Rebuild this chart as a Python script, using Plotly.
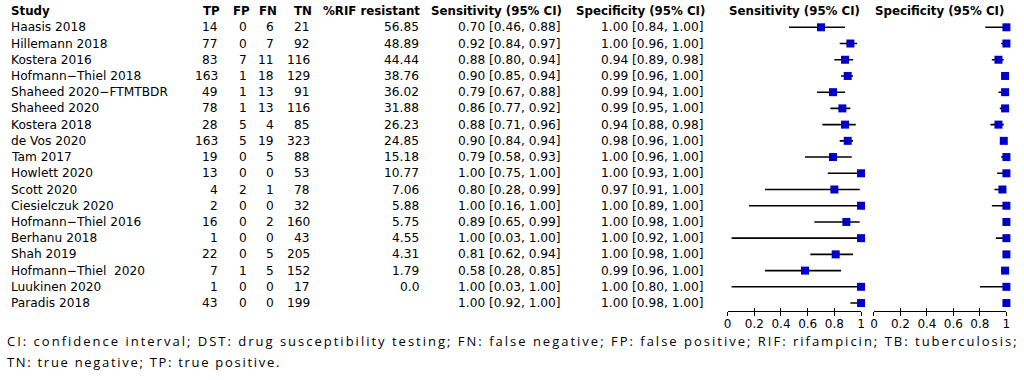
import plotly.graph_objects as go

studies = ["Haasis 2018", "Hillemann 2018", "Kostera 2016", "Hofmann\u2212Thiel 2018",
           "Shaheed 2020\u2212FTMTBDR", "Shaheed 2020", "Kostera 2018", "de Vos 2020",
           "Tam 2017", "Howlett 2020", "Scott 2020", "Ciesielczuk 2020",
           "Hofmann\u2212Thiel 2016", "Berhanu 2018", "Shah 2019", "Hofmann\u2212Thiel  2020",
           "Luukinen 2020", "Paradis 2018"]
tp = [14, 77, 83, 163, 49, 78, 28, 163, 19, 13, 4, 2, 16, 1, 22, 7, 1, 43]
fp = [0, 0, 7, 1, 1, 1, 5, 5, 0, 0, 2, 0, 0, 0, 0, 1, 0, 0]
fn = [6, 7, 11, 18, 13, 13, 4, 19, 5, 0, 1, 0, 2, 0, 5, 5, 0, 0]
tn = [21, 92, 116, 129, 91, 116, 85, 323, 88, 53, 78, 32, 160, 43, 205, 152, 17, 199]
rif = ["56.85", "48.89", "44.44", "38.76", "36.02", "31.88", "26.23", "24.85", "15.18",
       "10.77", "7.06", "5.88", "5.75", "4.55", "4.31", "1.79", "0.0", ""]
sens = [0.70, 0.92, 0.88, 0.90, 0.79, 0.86, 0.88, 0.90, 0.79, 1.00, 0.80, 1.00, 0.89, 1.00, 0.81, 0.58, 1.00, 1.00]
sens_lo = [0.46, 0.84, 0.80, 0.85, 0.67, 0.77, 0.71, 0.84, 0.58, 0.75, 0.28, 0.16, 0.65, 0.03, 0.62, 0.28, 0.03, 0.92]
sens_hi = [0.88, 0.97, 0.94, 0.94, 0.88, 0.92, 0.96, 0.94, 0.93, 1.00, 0.99, 1.00, 0.99, 1.00, 0.94, 0.85, 1.00, 1.00]
spec = [1.00, 1.00, 0.94, 0.99, 0.99, 0.99, 0.94, 0.98, 1.00, 1.00, 0.97, 1.00, 1.00, 1.00, 1.00, 0.99, 1.00, 1.00]
spec_lo = [0.84, 0.96, 0.89, 0.96, 0.94, 0.95, 0.88, 0.96, 0.96, 0.93, 0.91, 0.89, 0.98, 0.92, 0.98, 0.96, 0.80, 0.98]
spec_hi = [1.00, 1.00, 0.98, 1.00, 1.00, 1.00, 0.98, 1.00, 1.00, 1.00, 1.00, 1.00, 1.00, 1.00, 1.00, 1.00, 1.00, 1.00]
ticks = [0, 0.2, 0.4, 0.6, 0.8, 1]
tick_labels = ["0", "0.2", "0.4", "0.6", "0.8", "1"]
footnote = ["CI: confidence interval; DST: drug susceptibility testing; FN: false negative; FP: false positive; RIF: rifampicin; TB: tuberculosis;",
            "TN: true negative; TP: true positive."]

W, H = 1024, 380
ROW0, ROWH = 27.3, 16.22
AXIS_Y = 311
FONT = "DejaVu Sans"
BLUE = "#0000c8"

rows = list(range(len(studies)))
y_top = -ROW0 / ROWH
y_bot = (AXIS_Y - ROW0) / ROWH

fig = go.Figure()


def ci_trace(v, lo, hi, xa):
    return go.Scatter(
        x=v, y=rows, mode="markers", xaxis=xa, yaxis="y",
        marker=dict(symbol="square", size=8, color=BLUE, line=dict(width=0)),
        error_x=dict(type="data", symmetric=False,
                     array=[h - a for a, h in zip(v, hi)],
                     arrayminus=[a - l for a, l in zip(v, lo)],
                     color="black", thickness=1.6, width=0),
        cliponaxis=False, showlegend=False, hoverinfo="skip")


fig.add_trace(ci_trace(sens, sens_lo, sens_hi, "x"))
fig.add_trace(ci_trace(spec, spec_lo, spec_hi, "x2"))
# empty traces so the overlay tick axes are drawn
fig.add_trace(go.Scatter(x=[], y=[], xaxis="x3", yaxis="y", showlegend=False))
fig.add_trace(go.Scatter(x=[], y=[], xaxis="x4", yaxis="y", showlegend=False))

SENS_DOM = [729.3 / W, 863.8 / W]
SPEC_DOM = [876.8 / W, 1010.3 / W]
axis_common = dict(range=[0, 1], showgrid=False, zeroline=False, showline=True,
                   linecolor="black", linewidth=1.3, ticks="outside", ticklen=4,
                   tickwidth=1.3, tickcolor="black", tickvals=ticks, ticktext=tick_labels,
                   ticklabelstandoff=-3,
                   tickfont=dict(family=FONT, size=12, color="black"), anchor="y")
inner_ticks = dict(range=[0, 1], showgrid=False, zeroline=False, showline=False,
                   ticks="inside", ticklen=3, tickwidth=1.3, tickcolor="black",
                   tickvals=ticks, showticklabels=False, anchor="y")
fig.update_layout(
    width=W, height=H, margin=dict(l=0, r=0, t=0, b=0),
    paper_bgcolor="white", plot_bgcolor="rgba(0,0,0,0)",
    xaxis=dict(domain=SENS_DOM, **axis_common),
    xaxis2=dict(domain=SPEC_DOM, **axis_common),
    xaxis3=dict(domain=SENS_DOM, overlaying="x", **inner_ticks),
    xaxis4=dict(domain=SPEC_DOM, overlaying="x2", **inner_ticks),
    yaxis=dict(domain=[(H - AXIS_Y) / H, 1], range=[y_bot, y_top], visible=False),
)

ann = []


def txt(x, y, s, anchor, bold=False, size=12.2):
    ann.append(dict(x=x / W, y=y, xref="paper", yref="y", text=("<b>%s</b>" % s) if bold else s,
                    showarrow=False, xanchor=anchor, yanchor="middle",
                    font=dict(family=FONT, size=size, color="black")))


hy = -1.03
HS = 11.8
LEFT = 5
txt(LEFT, hy, "Study", "left", True, HS)
txt(220, hy, "TP", "right", True, HS)
txt(250, hy, "FP", "right", True, HS)
txt(277, hy, "FN", "right", True, HS)
txt(312, hy, "TN", "right", True, HS)
txt(421, hy, "%RIF resistant", "right", True, HS)
txt(564, hy, "Sensitivity (95% CI)", "right", True, HS)
txt(709, hy, "Specificity (95% CI)", "right", True, HS)
txt(797, hy, "Sensitivity (95% CI)", "center", True, HS)
txt(943, hy, "Specificity (95% CI)", "center", True, HS)

for i in rows:
    txt(LEFT, i, studies[i], "left")
    txt(218, i, str(tp[i]), "right")
    txt(247, i, str(fp[i]), "right")
    txt(274, i, str(fn[i]), "right")
    txt(310, i, str(tn[i]), "right")
    if rif[i]:
        txt(420, i, rif[i], "right")
    txt(563, i, "%.2f [%.2f, %.2f]" % (sens[i], sens_lo[i], sens_hi[i]), "right")
    txt(708, i, "%.2f [%.2f, %.2f]" % (spec[i], spec_lo[i], spec_hi[i]), "right")

for line, py, sp in zip(footnote, [341, 362], [2.0, 1.7]):
    ann.append(dict(x=1 / W, y=1 - py / H, xref="paper", yref="paper",
                    text='<span style="letter-spacing:%spx">%s</span>' % (sp, line),
                    showarrow=False, xanchor="left", yanchor="middle",
                    font=dict(family="Open Sans", size=13, color="black")))

fig.update_layout(annotations=ann)
fig.write_html("out.html", config={"displayModeBar": False},
               post_script="document.body.style.margin='0';document.body.style.padding='0';")
